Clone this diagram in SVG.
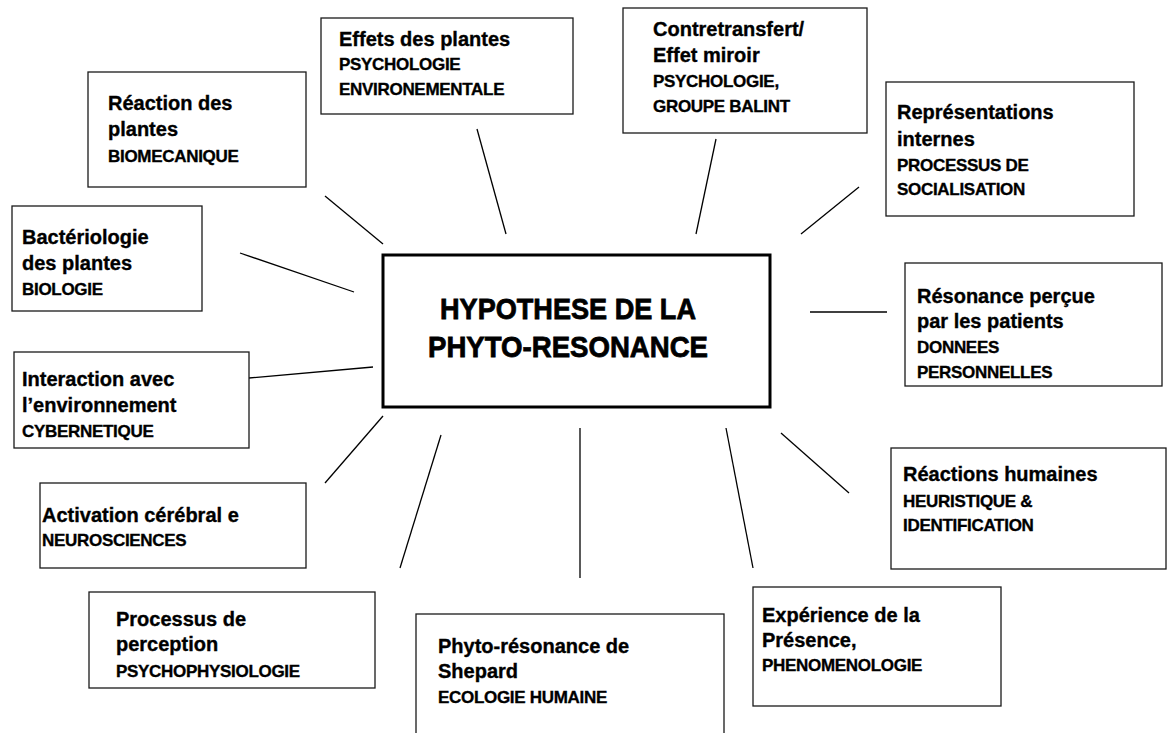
<svg xmlns="http://www.w3.org/2000/svg" width="1167" height="733" viewBox="0 0 1167 733">
<style>
.box{fill:#fff;stroke:#1a1a1a;stroke-width:1.3}
.main{fill:#fff;stroke:#000;stroke-width:3}
.t{font-family:"Liberation Sans",Arial,sans-serif;font-weight:bold;font-size:20px;fill:#000;stroke:#000;stroke-width:0.35}
.s{font-family:"Liberation Sans",Arial,sans-serif;font-weight:bold;font-size:17px;fill:#000;stroke:#000;stroke-width:0.35;letter-spacing:-0.3px}
.c{font-family:"Liberation Sans",Arial,sans-serif;font-weight:bold;font-size:30px;fill:#000;stroke:#000;stroke-width:0.8}
.ln{stroke:#000;stroke-width:1.3;fill:none}
</style>
<rect width="1167" height="733" fill="#fff"/>
<g id="connectors">
<line class="ln" x1="325" y1="196" x2="383" y2="244"/>
<line class="ln" x1="240" y1="253" x2="354" y2="292"/>
<line class="ln" x1="477" y1="129" x2="506" y2="234"/>
<line class="ln" x1="716" y1="139" x2="696" y2="234"/>
<line class="ln" x1="859" y1="187" x2="801" y2="234"/>
<line class="ln" x1="810" y1="312" x2="887" y2="312"/>
<line class="ln" x1="249" y1="378" x2="373" y2="367"/>
<line class="ln" x1="325" y1="483" x2="383" y2="416"/>
<line class="ln" x1="441" y1="435" x2="400" y2="568"/>
<line class="ln" x1="580" y1="428" x2="580" y2="578"/>
<line class="ln" x1="726" y1="428" x2="753" y2="568"/>
<line class="ln" x1="781" y1="433" x2="849" y2="493"/>
</g>
<g id="center">
<rect class="main" x="383" y="255" width="387" height="152"/>
<text class="c" x="440" y="319" textLength="256" lengthAdjust="spacingAndGlyphs">HYPOTHESE DE LA</text>
<text class="c" x="428" y="357" textLength="280" lengthAdjust="spacingAndGlyphs">PHYTO-RESONANCE</text>
</g>
<g id="reaction-plantes">
<rect class="box" x="88" y="72" width="218" height="115"/>
<text class="t" x="108" y="110">Réaction des</text>
<text class="t" x="108" y="136">plantes</text>
<text class="s" x="108" y="162">BIOMECANIQUE</text>
</g>
<g id="effets-plantes">
<rect class="box" x="321" y="18" width="252" height="96"/>
<text class="t" x="339" y="46">Effets des plantes</text>
<text class="s" x="339" y="70">PSYCHOLOGIE</text>
<text class="s" x="339" y="95">ENVIRONEMENTALE</text>
</g>
<g id="contretransfert">
<rect class="box" x="623" y="8" width="244" height="125"/>
<text class="t" x="653" y="36">Contretransfert/</text>
<text class="t" x="653" y="62">Effet miroir</text>
<text class="s" x="653" y="87">PSYCHOLOGIE,</text>
<text class="s" x="653" y="112">GROUPE BALINT</text>
</g>
<g id="representations">
<rect class="box" x="886" y="82" width="248" height="134"/>
<text class="t" x="897" y="119">Représentations</text>
<text class="t" x="897" y="146">internes</text>
<text class="s" x="897" y="171">PROCESSUS DE</text>
<text class="s" x="897" y="195">SOCIALISATION</text>
</g>
<g id="bacteriologie">
<rect class="box" x="12" y="206" width="190" height="105"/>
<text class="t" x="22" y="244">Bactériologie</text>
<text class="t" x="22" y="270">des plantes</text>
<text class="s" x="22" y="295">BIOLOGIE</text>
</g>
<g id="resonance-percue">
<rect class="box" x="905" y="263" width="257" height="123"/>
<text class="t" x="917" y="303">Résonance perçue</text>
<text class="t" x="917" y="328">par les patients</text>
<text class="s" x="917" y="353">DONNEES</text>
<text class="s" x="917" y="378">PERSONNELLES</text>
</g>
<g id="interaction">
<rect class="box" x="14" y="352" width="235" height="96"/>
<text class="t" x="22" y="386">Interaction avec</text>
<text class="t" x="22" y="412">l’environnement</text>
<text class="s" x="22" y="437">CYBERNETIQUE</text>
</g>
<g id="activation">
<rect class="box" x="40" y="483" width="266" height="85"/>
<text class="t" x="42" y="522">Activation cérébral e</text>
<text class="s" x="42" y="546">NEUROSCIENCES</text>
</g>
<g id="reactions-humaines">
<rect class="box" x="891" y="448" width="275" height="121"/>
<text class="t" x="903" y="481">Réactions humaines</text>
<text class="s" x="903" y="507">HEURISTIQUE &amp;</text>
<text class="s" x="903" y="531">IDENTIFICATION</text>
</g>
<g id="processus-perception">
<rect class="box" x="89" y="592" width="286" height="96"/>
<text class="t" x="116" y="626">Processus de</text>
<text class="t" x="116" y="651">perception</text>
<text class="s" x="116" y="677">PSYCHOPHYSIOLOGIE</text>
</g>
<g id="shepard">
<rect class="box" x="416" y="614" width="308" height="130"/>
<text class="t" x="438" y="653">Phyto-résonance de</text>
<text class="t" x="438" y="678">Shepard</text>
<text class="s" x="438" y="703">ECOLOGIE HUMAINE</text>
</g>
<g id="experience">
<rect class="box" x="753" y="587" width="248" height="119"/>
<text class="t" x="762" y="622">Expérience de la</text>
<text class="t" x="762" y="647">Présence,</text>
<text class="s" x="762" y="671">PHENOMENOLOGIE</text>
</g>
</svg>
